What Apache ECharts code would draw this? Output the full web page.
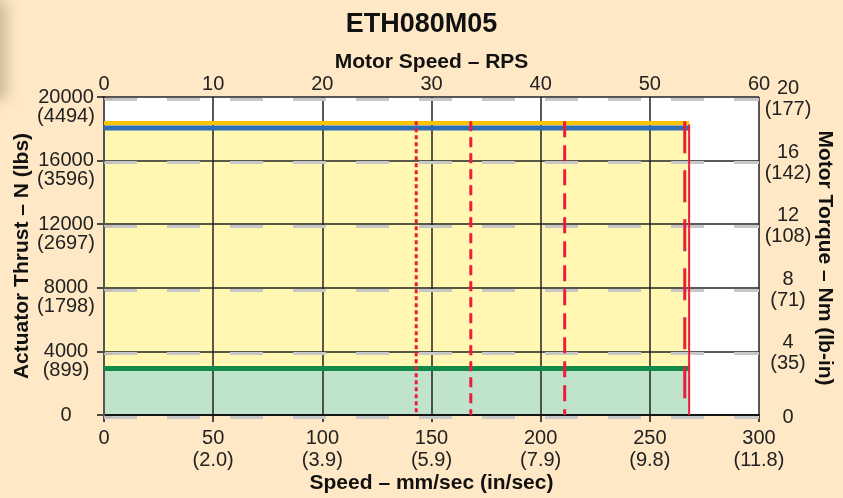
<!DOCTYPE html>
<html>
<head>
<meta charset="utf-8">
<script src="https://cdn.jsdelivr.net/npm/echarts@6/dist/echarts.min.js"></script>
<style>
  html, body { margin: 0; padding: 0; background: #fee8c5; }
  #chart { width: 843px; height: 498px; }
</style>
</head>
<body>
<div id="chart"></div>
<script>
// 数据
var speedTicks = [0, 50, 100, 150, 200, 250, 300];
var speedInch = ['', '(2.0)', '(3.9)', '(5.9)', '(7.9)', '(9.8)', '(11.8)'];
var thrustTicks = [0, 4000, 8000, 12000, 16000, 20000];
var thrustLbs = ['', '(899)', '(1798)', '(2697)', '(3596)', '(4494)'];
var torqueTicks = [0, 4, 8, 12, 16, 20];
var torqueLbin = ['', '(35)', '(71)', '(108)', '(142)', '(177)'];

var maxSpeed = 268;          // mm/sec
var peakThrust = 18370;      // 黄线
var ratedThrust = 18050;     // 蓝线
var contThrust = 2930;       // 绿线
var strokeLimits = [143, 168, 211, 266];   // 红色虚线
var strokeDash = [[4, 3], [10, 6], [16, 8], [32, 17]];

var font = 'Liberation Sans, Arial, sans-serif';
var red = '#ec1c3a';

var myChart = echarts.init(document.getElementById('chart'));

var series = [
  {
    type: 'line', xAxisIndex: 0, yAxisIndex: 0, z: 1, symbol: 'none',
    data: [[0, peakThrust], [maxSpeed, peakThrust]],
    lineStyle: { width: 0 }, areaStyle: { color: '#fff7b2', opacity: 1 }
  },
  {
    type: 'line', xAxisIndex: 0, yAxisIndex: 0, z: 1, symbol: 'none',
    data: [[0, contThrust], [maxSpeed, contThrust]],
    lineStyle: { width: 0 }, areaStyle: { color: '#bfe3cb', opacity: 1 }
  },
  {
    type: 'line', xAxisIndex: 0, yAxisIndex: 0, z: 5, symbol: 'none',
    data: [[0, peakThrust], [maxSpeed, peakThrust]],
    lineStyle: { width: 4, color: '#fbc400' }
  },
  {
    type: 'line', xAxisIndex: 0, yAxisIndex: 0, z: 5, symbol: 'none',
    data: [[0, ratedThrust], [maxSpeed, ratedThrust]],
    lineStyle: { width: 5, color: '#2f6db5' }
  },
  {
    type: 'line', xAxisIndex: 0, yAxisIndex: 0, z: 5, symbol: 'none',
    data: [[0, contThrust], [maxSpeed, contThrust]],
    lineStyle: { width: 5, color: '#0f8a48' }
  },
  {
    type: 'line', xAxisIndex: 0, yAxisIndex: 0, z: 6, symbol: 'none',
    data: [[maxSpeed, 0], [maxSpeed, peakThrust - 100]],
    lineStyle: { width: 2, color: red }
  }
];

strokeLimits.forEach(function (s, i) {
  series.push({
    type: 'line', xAxisIndex: 0, yAxisIndex: 0, z: 6, symbol: 'none',
    data: [[s, peakThrust + 100], [s, 0]],
    lineStyle: { width: 3, color: red, type: strokeDash[i] }
  });
});

var nameStyle = { fontFamily: font, fontSize: 21, fontWeight: 'bold', color: '#111' };

var option = {
  backgroundColor: '#fee8c5',
  animation: false,
  title: {
    text: 'ETH080M05',
    left: 'center', top: 6,
    textStyle: { fontFamily: font, fontSize: 27, fontWeight: 'bold', color: '#111' }
  },
  graphic: [{
    type: 'rect', left: -30, top: 0, z: 0,
    shape: { x: -30, y: -10, width: 30, height: 100, r: 8 },
    style: { fill: 'rgba(130,110,85,0.55)', shadowBlur: 14, shadowColor: 'rgba(110,90,65,0.6)', shadowOffsetX: 7 }
  }],
  grid: [
    { left: 104, right: 84, top: 97, bottom: 83, show: true, backgroundColor: '#fff', borderWidth: 0,
      containLabel: false, outerBoundsMode: 'none' },
    { left: 104, right: 84, top: 99, bottom: 81, show: false,
      containLabel: false, outerBoundsMode: 'none' }
  ],
  xAxis: [
    {
      type: 'value', gridIndex: 0, position: 'bottom', min: 0, max: 300, interval: 50, z: 3,
      name: 'Speed – mm/sec (in/sec)', nameLocation: 'middle', nameGap: 58, nameMoveOverlap: false,
      nameTextStyle: nameStyle,
      axisLine: { lineStyle: { color: '#111', width: 1.5 } },
      axisTick: { show: true, length: 7, lineStyle: { color: '#111', width: 1.5 } },
      axisLabel: {
        fontFamily: font, fontSize: 20, lineHeight: 22, color: '#222', margin: 12,
        showMinLabel: true, showMaxLabel: true,
        formatter: function (v) {
          var i = speedTicks.indexOf(v);
          return i > 0 ? v + '\n' + speedInch[i] : String(v);
        }
      },
      splitLine: { show: true, lineStyle: { color: '#222', width: 1.5 } }
    },
    {
      type: 'value', gridIndex: 0, position: 'top', min: 0, max: 60, interval: 10, z: 3,
      name: 'Motor Speed – RPS', nameLocation: 'middle', nameGap: 24, nameMoveOverlap: false,
      nameTextStyle: nameStyle,
      axisLine: { lineStyle: { color: '#111', width: 1.5 } },
      axisTick: { show: false },
      axisLabel: { fontFamily: font, fontSize: 20, lineHeight: 22, color: '#222', margin: 2,
        showMinLabel: true, showMaxLabel: true },
      splitLine: { show: false }
    },
    {
      type: 'value', gridIndex: 1, min: 0, max: 300, show: false
    }
  ],
  yAxis: [
    {
      type: 'value', gridIndex: 0, position: 'left', min: 0, max: 20000, interval: 4000, z: 3,
      name: 'Actuator Thrust – N (lbs)', nameLocation: 'middle', nameGap: 71, nameMoveOverlap: false,
      nameTextStyle: nameStyle,
      axisLine: { show: true, lineStyle: { color: '#111', width: 1.5 } },
      axisTick: { show: true, length: 7, lineStyle: { color: '#111', width: 1.5 } },
      axisLabel: {
        fontFamily: font, fontSize: 20, color: '#222', margin: 38, align: 'center',
        showMinLabel: true, showMaxLabel: true,
        formatter: function (v) { return String(v); }
      },
      splitLine: { show: true, lineStyle: { color: '#222', width: 1.5 } }
    },
    {
      type: 'value', gridIndex: 1, position: 'right', min: 0, max: 20, interval: 4, z: 4,
      name: 'Motor Torque – Nm (lb-in)', nameLocation: 'middle', nameGap: 55, nameRotate: -90,
      nameMoveOverlap: false,
      nameTextStyle: nameStyle,
      axisLine: { show: true, lineStyle: { color: '#555', width: 2 } },
      axisTick: { show: true, length: 9, lineStyle: { color: '#bbb', width: 2 } },
      axisLabel: {
        fontFamily: font, fontSize: 20, lineHeight: 21, color: '#222', margin: 29, align: 'center',
        showMinLabel: true, showMaxLabel: true,
        formatter: function (v) {
          var i = torqueTicks.indexOf(v);
          return i > 0 ? v + '\n' + torqueLbin[i] : String(v);
        }
      },
      splitLine: { show: true, lineStyle: { color: '#c8c8c8', width: 3, type: [33, 30] } }
    },
    {
      // 左轴括号内的 lbs 标签
      type: 'value', gridIndex: 0, position: 'left', offset: 0, min: 0, max: 20000, interval: 4000,
      axisLine: { show: false }, axisTick: { show: false }, splitLine: { show: false },
      axisLabel: {
        fontFamily: font, fontSize: 20, lineHeight: 20, color: '#222', margin: 38, align: 'center',
        verticalAlign: 'top', padding: [9, 0, 0, 0],
        showMinLabel: true, showMaxLabel: true,
        formatter: function (v) {
          return thrustLbs[thrustTicks.indexOf(v)] || '';
        }
      }
    }
  ],
  series: series
};

myChart.setOption(option);
</script>
</body>
</html>
